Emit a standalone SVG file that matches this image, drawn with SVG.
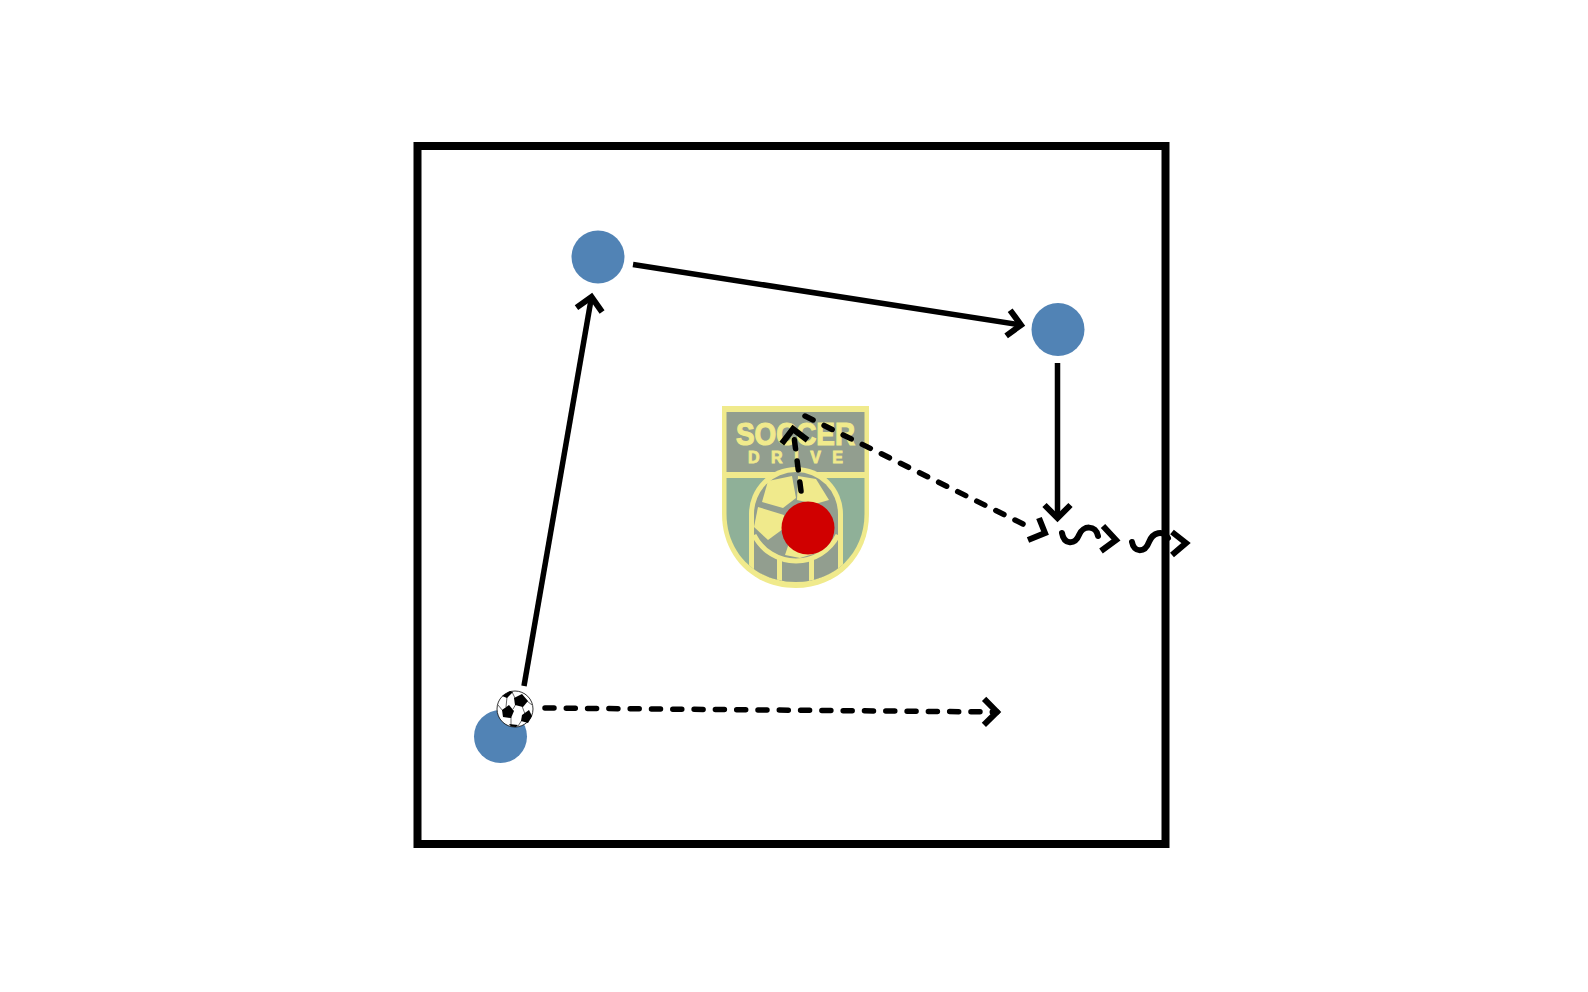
<svg xmlns="http://www.w3.org/2000/svg" width="1588" height="992" viewBox="0 0 1588 992">
<style>
.player{fill:#5183b5}
.opp{fill:#d00000}
.line{fill:none;stroke:#000;stroke-width:5.5;marker-end:url(#head)}
.dash{stroke-dasharray:9 12.3;stroke-linecap:round}
.sq{fill:none;stroke:#000;stroke-width:6;stroke-linecap:round}
.hd{fill:none;stroke:#000;stroke-width:6}
.y{fill:#f0ea8c}
.g{fill:#929e8f}
.lt{font-family:"Liberation Sans",Arial,sans-serif;font-weight:700;fill:#f0ea8c;stroke:#f0ea8c}
</style>
<defs>
<marker id="head" markerUnits="userSpaceOnUse" markerWidth="40" markerHeight="40" refX="20" refY="20" orient="auto" overflow="visible">
<path d="M7,7 L20,20 L7,33" fill="none" stroke="#000" stroke-width="6"/>
</marker>
<clipPath id="inner"><path d="M726.5,412 H864.5 V514 C864.5,553 835,582 795.5,582 C756,582 726.5,553 726.5,514 Z"/></clipPath>
</defs>
<rect width="1588" height="992" fill="#fff"/>
<g id="logo">
<path class="y" d="M722,406 H869 V514 C869,556 838,588 795.5,588 C753,588 722,556 722,514 Z"/>
<g clip-path="url(#inner)">
<rect x="726" y="478" width="140" height="110" fill="#8fb098"/>
<rect x="726" y="412" width="140" height="60" class="g"/>
<rect x="722" y="472" width="147" height="6" class="y"/>
<path class="y" d="M749,590 V514 A47,47 0 0 1 843,514 V590 Z"/>
<path class="g" d="M754,590 V514 A42,42 0 0 1 838,514 V590 Z"/>
<path d="M754,535 A47,47 0 0 0 838,535" fill="none" stroke="#f0ea8c" stroke-width="5"/>
<rect x="777" y="558" width="5" height="30" class="y"/>
<rect x="809" y="558" width="5" height="30" class="y"/>
<polygon class="y" points="768,481 792,476 796,498 783,508 762,502"/>
<polygon class="y" points="798,476 816,479 829,500 815,504 797,500"/>
<polygon class="y" points="758,507 784,515 783,529 768,540 754,527"/>
<polygon class="y" points="790,540 815,538 820,552 800,558 785,555"/>
</g>
<text class="lt" x="736" y="445" font-size="31" stroke-width="1.2" textLength="119" lengthAdjust="spacingAndGlyphs">SOCCER</text>
<text class="lt" x="748" y="463" font-size="16" stroke-width="0.8" textLength="95" lengthAdjust="spacing">DRIVE</text>
</g>
<rect id="field" x="417.5" y="146" width="748" height="698" fill="none" stroke="#000" stroke-width="8"/>
<g id="connectors">
<path class="line" d="M524,686 L591.5,297"/>
<path class="line" d="M633,264.5 L1021,325"/>
<path class="line" d="M1057.5,363 L1057.5,518"/>
<path class="line dash" d="M545,708 L997,712"/>
<path class="line dash" d="M801,491 L793,429"/>
<path class="dash" fill="none" stroke="#000" stroke-width="5.5" d="M805,416 L1025,525"/>
<path class="hd" d="M1028,540 L1045,533 L1039,518"/>
<path class="sq" d="M1062,533 C1064,545 1075,545 1079,535 C1083,525 1096,525 1098,536"/>
<path class="hd" d="M1103,526 L1116,540 L1101,551"/>
<path class="sq" d="M1132,542 C1134,553 1145,553 1149,542 C1153,532 1163,530 1168,538"/>
<path class="hd" d="M1172,532 L1186,543 L1172,555"/>
</g>
<g id="player-1"><circle class="player" cx="500.5" cy="736.5" r="26.5"/></g>
<g id="player-2"><circle class="player" cx="598" cy="257" r="26.5"/></g>
<g id="player-3"><circle class="player" cx="1058" cy="329.5" r="26.5"/></g>
<g id="opponent"><circle class="opp" cx="808" cy="528" r="26.5"/></g>
<g id="ball">
<circle cx="515" cy="709" r="18" fill="#fff" stroke="#000" stroke-width="0.8"/>
<polygon points="514,698 522,694 528,701 523,707 515,705" fill="#000"/>
<polygon points="502,710 509,705 514,711 511,718 503,717" fill="#000"/>
<polygon points="522,715 529,710 532,716 528,723 521,721" fill="#000"/>
<polygon points="509,724 518,725 516,727 511,726.5" fill="#000"/>
<polygon points="502,696 510,691 513,692 507,698" fill="#000"/>
<path d="M515,698 L512,692 M516,704 L513,709 M522,706 L525,714 M527,701 L532,705 M511,717 L511,725 M503,711 L498,705 M522,720 L518,726 M507,697 L506,707" stroke="#000" stroke-width="0.6" fill="none"/>
</g>
</svg>
